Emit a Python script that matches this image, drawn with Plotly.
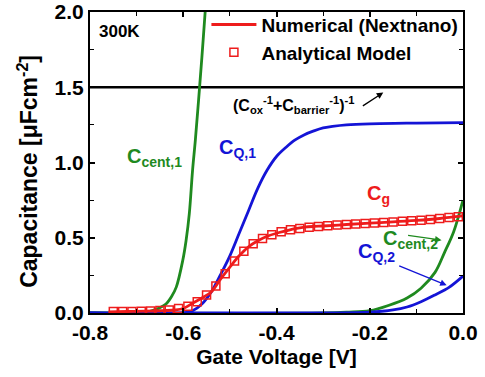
import plotly.graph_objects as go

# ---- data ----
barrier_V = [-0.8, 0.0]
barrier_C = [1.5, 1.5]

cent1_V = [-0.80, -0.70, -0.68, -0.665, -0.65, -0.637, -0.625, -0.615, -0.601, -0.594, -0.587, -0.580, -0.574, -0.567, -0.560, -0.553, -0.548]
cent1_C = [0.0, 0.0, 0.003, 0.017, 0.035, 0.06, 0.11, 0.172, 0.35, 0.48, 0.66, 0.95, 1.15, 1.42, 1.70, 2.0, 2.2]

cq1_V = [-0.80, -0.60, -0.58, -0.56, -0.54, -0.52, -0.50, -0.48, -0.46, -0.44, -0.42, -0.40, -0.38, -0.36, -0.34, -0.32, -0.30, -0.28, -0.25, -0.20, -0.10, 0.0]
cq1_C = [0.0, 0.0, 0.015, 0.06, 0.14, 0.255, 0.38, 0.53, 0.68, 0.83, 0.95, 1.04, 1.10, 1.15, 1.185, 1.21, 1.23, 1.24, 1.25, 1.257, 1.262, 1.265]

cent2_V = [-0.80, -0.30, -0.25, -0.20, -0.16, -0.12, -0.09, -0.06, -0.04, -0.02, 0.0]
cent2_C = [0.0, 0.0, 0.005, 0.015, 0.05, 0.10, 0.165, 0.27, 0.40, 0.54, 0.75]

cq2_V = [-0.80, -0.30, -0.20, -0.15, -0.12, -0.09, -0.06, -0.03, 0.0]
cq2_C = [0.0, 0.0, 0.005, 0.02, 0.04, 0.075, 0.12, 0.17, 0.245]

cg_V = [-0.76, -0.72, -0.68, -0.65, -0.62, -0.60, -0.58, -0.56, -0.54, -0.52, -0.50, -0.48, -0.46, -0.44, -0.42, -0.40, -0.38, -0.36, -0.34, -0.32, -0.30, -0.25, -0.20, -0.15, -0.10, -0.05, 0.0]
cg_C = [0.008, 0.01, 0.012, 0.015, 0.02, 0.03, 0.065, 0.10, 0.14, 0.225, 0.305, 0.38, 0.44, 0.48, 0.51, 0.53, 0.545, 0.56, 0.57, 0.575, 0.578, 0.588, 0.597, 0.605, 0.615, 0.628, 0.645]

model_V = [-0.75, -0.73, -0.71, -0.69, -0.67, -0.65, -0.63, -0.61, -0.59, -0.57, -0.55, -0.53, -0.51, -0.49, -0.47, -0.45, -0.43, -0.41, -0.39, -0.37, -0.35, -0.33, -0.31, -0.29, -0.27, -0.25, -0.23, -0.21, -0.19, -0.17, -0.15, -0.13, -0.11, -0.09, -0.07, -0.05, -0.03, -0.01]
model_C = [0.01, 0.01, 0.01, 0.012, 0.013, 0.016, 0.02, 0.03, 0.045, 0.075, 0.12, 0.18, 0.26, 0.345, 0.41, 0.46, 0.495, 0.52, 0.54, 0.553, 0.562, 0.57, 0.575, 0.58, 0.584, 0.588, 0.592, 0.595, 0.598, 0.602, 0.605, 0.609, 0.613, 0.617, 0.622, 0.628, 0.634, 0.64]

x_tickvals = [-0.8, -0.6, -0.4, -0.2, 0.0]
x_ticktext = ["-0.8", "-0.6", "-0.4", "-0.2", "0.0"]
y_tickvals = [0.0, 0.5, 1.0, 1.5, 2.0]
y_ticktext = ["0.0", "0.5", "1.0", "1.5", "2.0"]

RED = "#ee1c1c"
GREEN = "#1f8a1f"
BLUE = "#1414d6"
FONT = "Liberation Sans, Arial, sans-serif"

fig = go.Figure()
fig.add_trace(go.Scatter(x=barrier_V, y=barrier_C, mode="lines", line=dict(color="black", width=2.5), showlegend=False))
fig.add_trace(go.Scatter(x=cent1_V, y=cent1_C, mode="lines", line=dict(color=GREEN, width=2.8, shape="spline"), showlegend=False))
fig.add_trace(go.Scatter(x=cent2_V, y=cent2_C, mode="lines", line=dict(color=GREEN, width=2.8, shape="spline"), showlegend=False))
fig.add_trace(go.Scatter(x=cq1_V, y=cq1_C, mode="lines", line=dict(color=BLUE, width=2.8, shape="spline"), showlegend=False))
fig.add_trace(go.Scatter(x=cq2_V, y=cq2_C, mode="lines", line=dict(color=BLUE, width=2.8, shape="spline"), showlegend=False))
fig.add_trace(go.Scatter(x=cg_V, y=cg_C, mode="lines", line=dict(color=RED, width=2.8, shape="spline"),
                         name="Numerical (Nextnano)"))
fig.add_trace(go.Scatter(x=model_V, y=model_C, mode="markers",
                         marker=dict(symbol="square-open", size=8, color=RED, line=dict(width=1.5, color=RED)),
                         name="Analytical Model"))

ann = []
def label(x, y, text, color, size=20, xanchor="left"):
    ann.append(dict(x=x, y=y, xref="x", yref="y", text=text, showarrow=False,
                    xanchor=xanchor, yanchor="middle",
                    font=dict(family=FONT, size=size, color=color, weight="bold")))

label(-0.786, 1.87, "300K", "black", size=17)
label(-0.498, 1.385, "(C<sub>ox</sub><sup>-1</sup>+C<sub>barrier</sub><sup>-1</sup>)<sup>-1</sup>", "black", size=16)
label(-0.724, 1.03, "C<sub>cent,1</sub>", GREEN)
label(-0.528, 1.09, "C<sub>Q,1</sub>", BLUE)
label(-0.21, 0.79, "C<sub>g</sub>", RED)
label(-0.176, 0.49, "C<sub>cent,2</sub>", GREEN)
label(-0.229, 0.40, "C<sub>Q,2</sub>", BLUE)

def arrow(x0, y0, x1, y1, color):
    ann.append(dict(x=x1, y=y1, ax=x0, ay=y0, xref="x", yref="y", axref="x", ayref="y",
                    text="", showarrow=True, arrowhead=2, arrowsize=1, arrowwidth=1.3,
                    arrowcolor=color))

arrow(-0.218, 1.37, -0.171, 1.465, "black")
arrow(-0.121, 0.517, -0.046, 0.484, GREEN)
arrow(-0.14, 0.317, -0.035, 0.185, BLUE)

# y-axis title placed as rotated annotation
ann.append(dict(x=-0.168, y=0.47, xref="paper", yref="paper", text="Capacitance [μFcm<sup>-2</sup>]",
                showarrow=False, textangle=-90, xanchor="center", yanchor="middle",
                font=dict(family=FONT, size=23, color="black", weight="bold")))

fig.update_layout(
    width=485, height=377,
    margin=dict(l=90, r=22, t=12, b=64, autoexpand=False),
    paper_bgcolor="white", plot_bgcolor="white",
    font=dict(family=FONT, size=18, color="black", weight="bold"),
    annotations=ann,
    legend=dict(x=0.4256, y=0.985, xref="container", yref="container",
                xanchor="left", yanchor="top", bgcolor="rgba(0,0,0,0)",
                font=dict(family=FONT, size=19, color="black", weight="bold"),
                itemwidth=45, tracegroupgap=0),
)
fig.update_xaxes(range=[-0.8, 0.0], tickvals=x_tickvals, ticktext=x_ticktext,
                 ticks="inside", ticklen=5, tickwidth=1.5, tickcolor="black",
                 minor=dict(dtick=0.1, ticks="inside", ticklen=4, tickwidth=1.3, tickcolor="black"),
                 showline=True, linecolor="black", linewidth=2, mirror="ticks",
                 showgrid=False, zeroline=False, automargin=False,
                 title=dict(text="Gate Voltage [V]", font=dict(size=21, weight="bold"), standoff=6),
                 tickfont=dict(size=21, weight="bold"))
fig.update_yaxes(range=[0, 2.0], tickvals=y_tickvals, ticktext=y_ticktext,
                 ticks="inside", ticklen=5, tickwidth=1.5, tickcolor="black",
                 minor=dict(dtick=0.25, ticks="inside", ticklen=4, tickwidth=1.3, tickcolor="black"),
                 showline=True, linecolor="black", linewidth=2, mirror="ticks",
                 showgrid=False, zeroline=False, automargin=False,
                 tickfont=dict(size=21, weight="bold"))

fig.write_html("out.html")
